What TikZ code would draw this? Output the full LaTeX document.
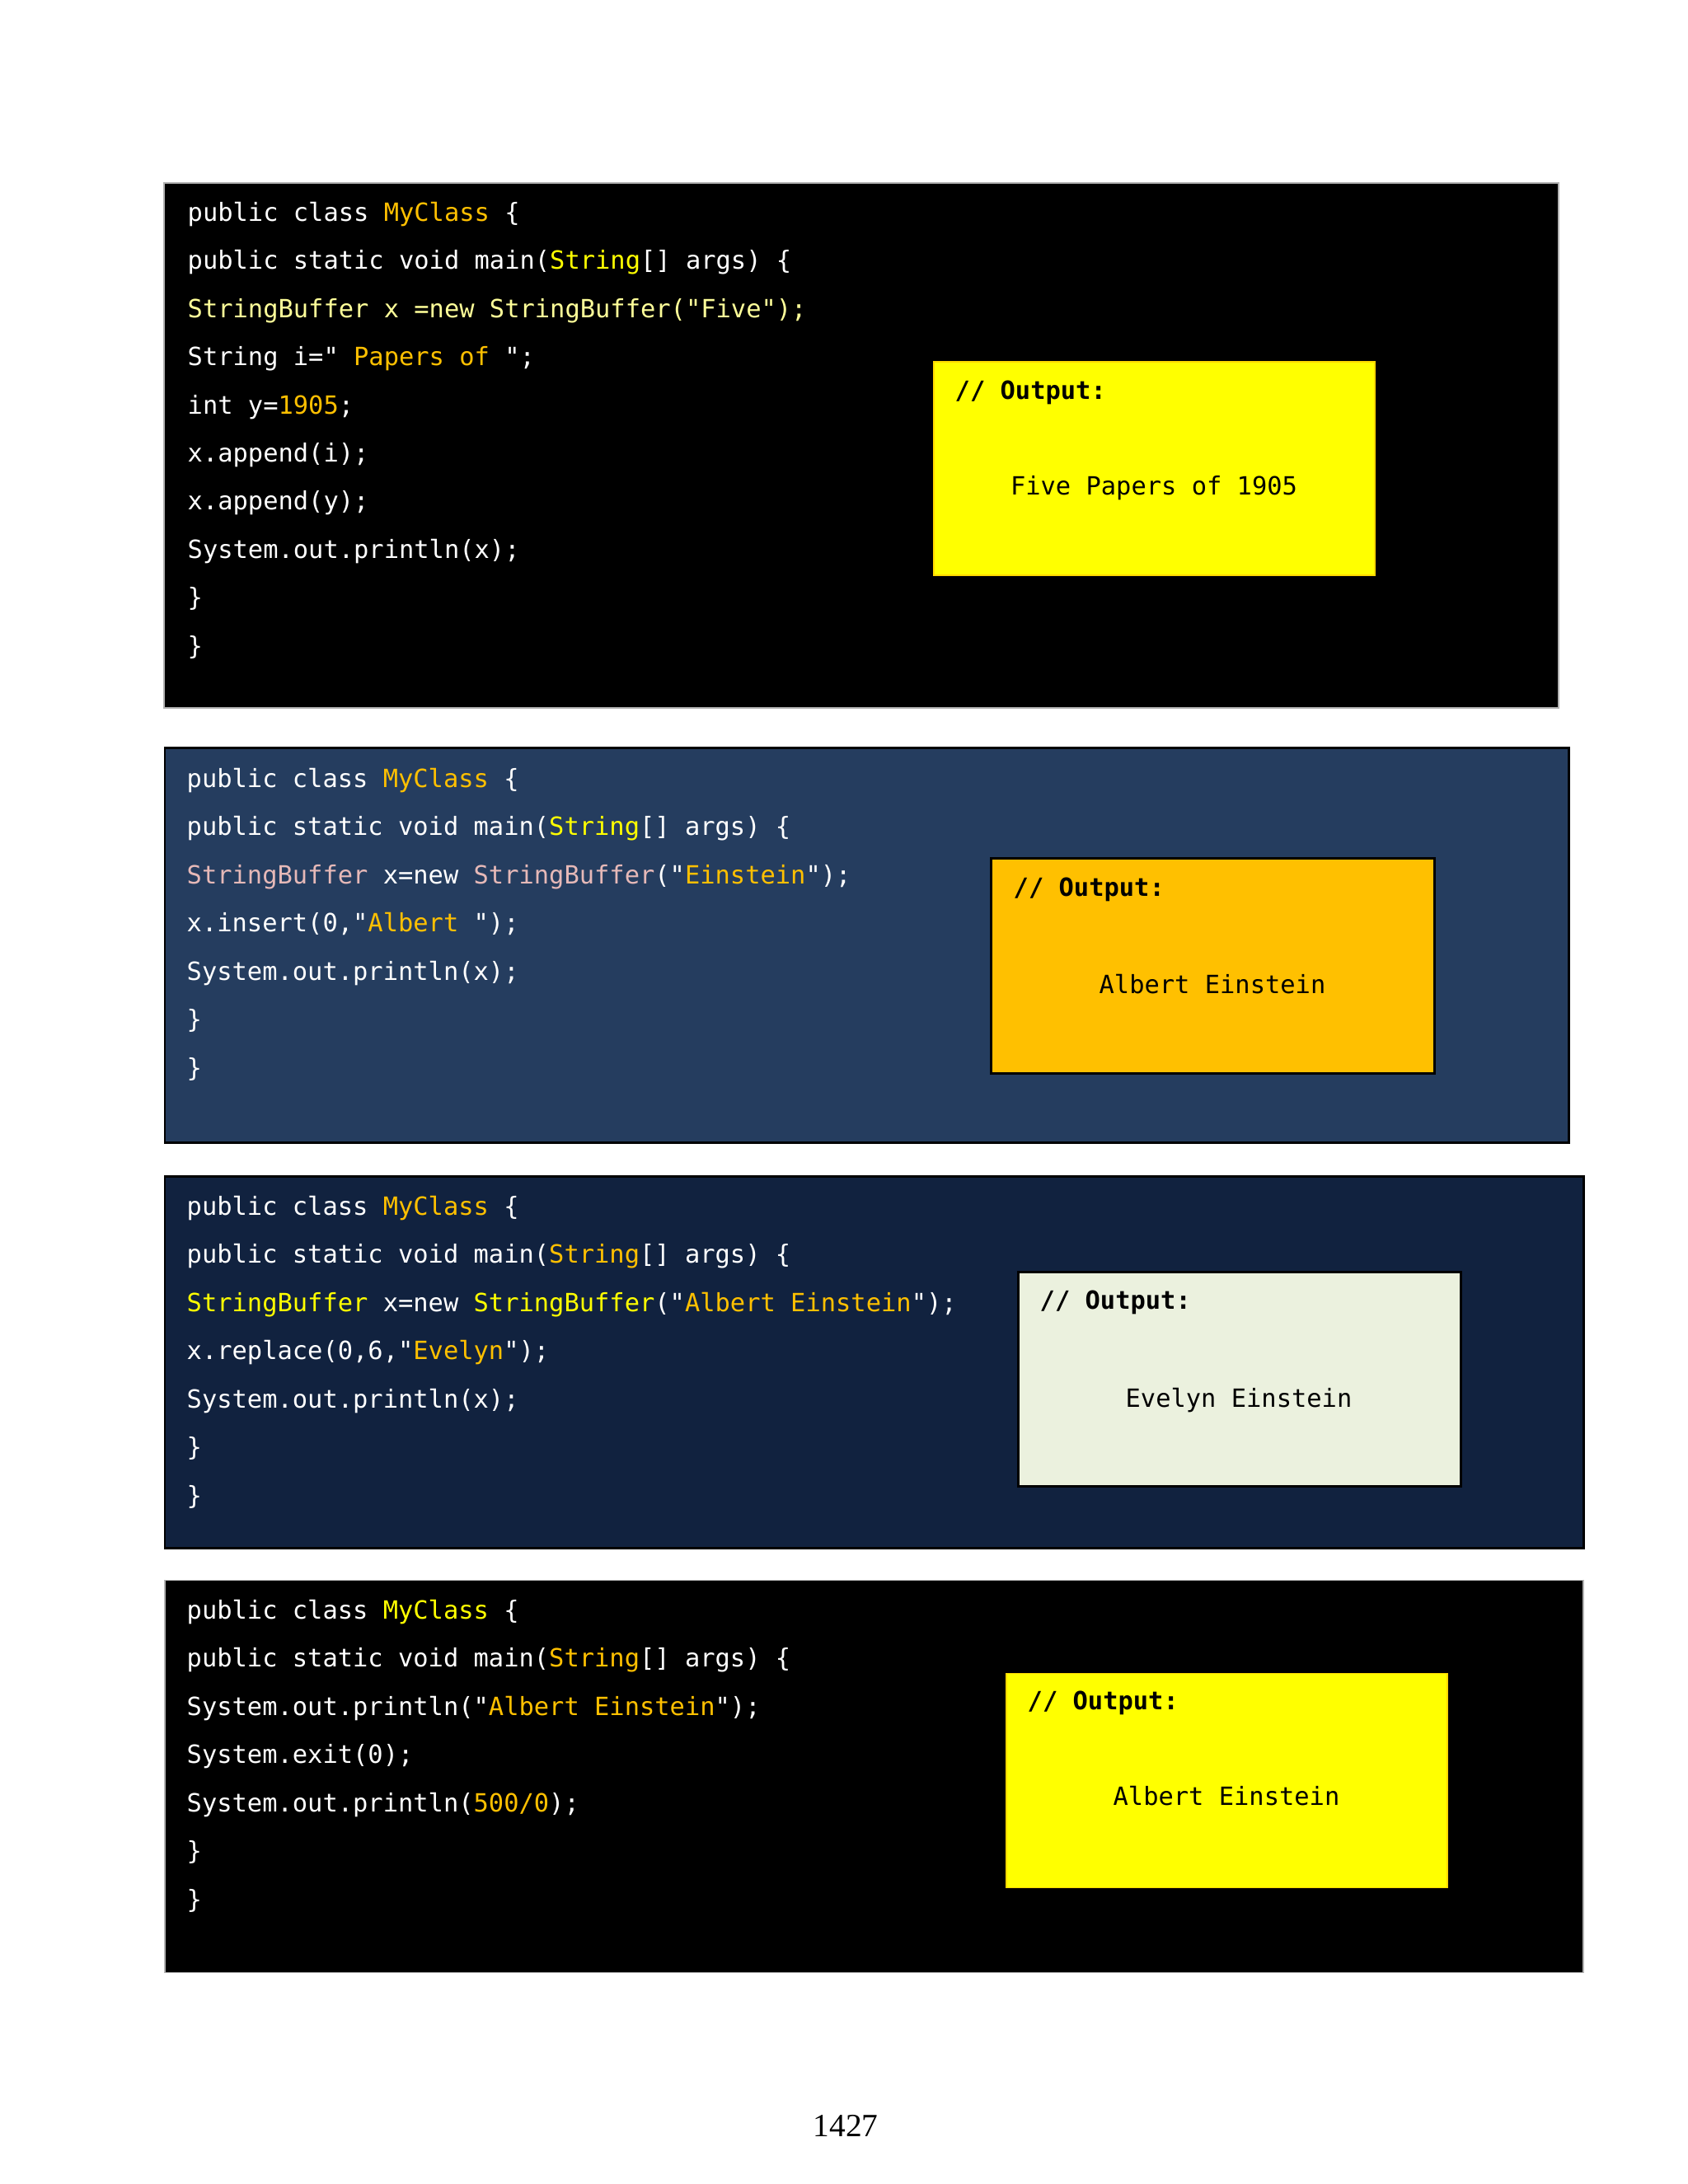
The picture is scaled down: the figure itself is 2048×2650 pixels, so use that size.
\documentclass[tikz,border=0pt]{standalone}
\usepackage{fontspec}
\setmainfont{Liberation Serif}
\newfontfamily\codefont{DejaVu Sans Mono}

\definecolor{gold}{HTML}{FFC000}
\definecolor{lemon}{HTML}{FFFF00}
\definecolor{paleyellow}{HTML}{FFFF99}
\definecolor{rosepink}{HTML}{E6B9B8}
\definecolor{slateblue}{HTML}{253D5F}
\definecolor{navyblue}{HTML}{11223F}
\definecolor{palegreen}{HTML}{EBF1DE}

\tikzset{
  codeline/.style={anchor=base west, inner sep=0pt, text=white,
    font=\codefont\fontsize{8.65pt}{10pt}\selectfont},
  outhead/.style={anchor=base west, inner sep=0pt,
    font=\codefont\bfseries\fontsize{8.65pt}{10pt}\selectfont},
  outtext/.style={anchor=base, inner sep=0pt,
    font=\codefont\fontsize{8.65pt}{10pt}\selectfont},
}

\begin{document}
\begin{tikzpicture}[x=0.01cm, y=-0.01cm]
% Page
\fill [white] (0,0) rectangle (2048,2650);
\useasboundingbox (0,0) rectangle (2048,2650);

% Block 1: append
\draw [fill=black, draw=gray!60, line width=0.3pt] (199,222) rectangle (1891,859);
\draw [fill=lemon, draw=gold!60!lemon, line width=0.3pt] (1133,439) rectangle (1668,698);
\node [codeline] (a1) at (227,268) {public class \textcolor{gold}{MyClass} \{};
\node [codeline] (a2) at (227,326) {public static void main(\textcolor{lemon}{String}[] args) \{};
\node [codeline, text=paleyellow] (a3) at (227,385) {StringBuffer x =new StringBuffer("Five");};
\node [codeline] (a4) at (227,443) {String i=" \textcolor{gold}{Papers of} ";};
\node [codeline] (a5) at (227,502) {int y=\textcolor{gold}{1905};};
\node [codeline] (a6) at (227,560) {x.append(i);};
\node [codeline] (a7) at (227,618) {x.append(y);};
\node [codeline] (a8) at (227,677) {System.out.println(x);};
\node [codeline] (a9) at (227,735) {\}};
\node [codeline] (a10) at (227,794) {\}};
\node [outhead] (ah) at (1158,484) {// Output:};
\node [outtext] (ao) at (1400,600) {Five Papers of 1905};

% Block 2: insert
\draw [fill=slateblue, draw=black, line width=0.85pt] (200,907) rectangle (1903,1386);
\draw [fill=gold, draw=black, line width=0.85pt] (1202,1041) rectangle (1740,1302);
\node [codeline] (b1) at (226,955) {public class \textcolor{gold}{MyClass} \{};
\node [codeline] (b2) at (226,1013) {public static void main(\textcolor{lemon}{String}[] args) \{};
\node [codeline] (b3) at (226,1072) {\textcolor{rosepink}{StringBuffer} x=new \textcolor{rosepink}{StringBuffer}("\textcolor{gold}{Einstein}");};
\node [codeline] (b4) at (226,1130) {x.insert(0,"\textcolor{gold}{Albert} ");};
\node [codeline] (b5) at (226,1189) {System.out.println(x);};
\node [codeline] (b6) at (226,1247) {\}};
\node [codeline] (b7) at (226,1306) {\}};
\node [outhead] (bh) at (1229,1087) {// Output:};
\node [outtext] (bo) at (1471,1205) {Albert Einstein};

% Block 3: replace
\draw [fill=navyblue, draw=black, line width=0.85pt] (200,1427) rectangle (1921,1878);
\draw [fill=palegreen, draw=black, line width=0.85pt] (1235,1543) rectangle (1772,1803);
\node [codeline] (c1) at (226,1474) {public class \textcolor{gold}{MyClass} \{};
\node [codeline] (c2) at (226,1532) {public static void main(\textcolor{gold}{String}[] args) \{};
\node [codeline] (c3) at (226,1591) {\textcolor{lemon}{StringBuffer} x=new \textcolor{lemon}{StringBuffer}("\textcolor{gold}{Albert Einstein}");};
\node [codeline] (c4) at (226,1649) {x.replace(0,6,"\textcolor{gold}{Evelyn}");};
\node [codeline] (c5) at (226,1708) {System.out.println(x);};
\node [codeline] (c6) at (226,1766) {\}};
\node [codeline] (c7) at (226,1825) {\}};
\node [outhead] (ch) at (1261,1588) {// Output:};
\node [outtext] (co) at (1503,1707) {Evelyn Einstein};

% Block 4: exit
\draw [fill=black, draw=gray!60, line width=0.3pt] (200,1917) rectangle (1921,2393);
\draw [fill=lemon, draw=gold!60!lemon, line width=0.3pt] (1221,2030) rectangle (1756,2290);
\node [codeline] (d1) at (226,1964) {public class \textcolor{lemon}{MyClass} \{};
\node [codeline] (d2) at (226,2022) {public static void main(\textcolor{gold}{String}[] args) \{};
\node [codeline] (d3) at (226,2081) {System.out.println("\textcolor{gold}{Albert Einstein}");};
\node [codeline] (d4) at (226,2139) {System.exit(0);};
\node [codeline] (d5) at (226,2198) {System.out.println(\textcolor{gold}{500/0});};
\node [codeline] (d6) at (226,2256) {\}};
\node [codeline] (d7) at (226,2315) {\}};
\node [outhead] (dh) at (1246,2074) {// Output:};
\node [outtext] (do) at (1488,2190) {Albert Einstein};

% Page number
\node [anchor=base, inner sep=0pt, font=\fontsize{11.2pt}{13pt}\selectfont] (pagenum) at (1026,2592) {1427};
\end{tikzpicture}
\end{document}
